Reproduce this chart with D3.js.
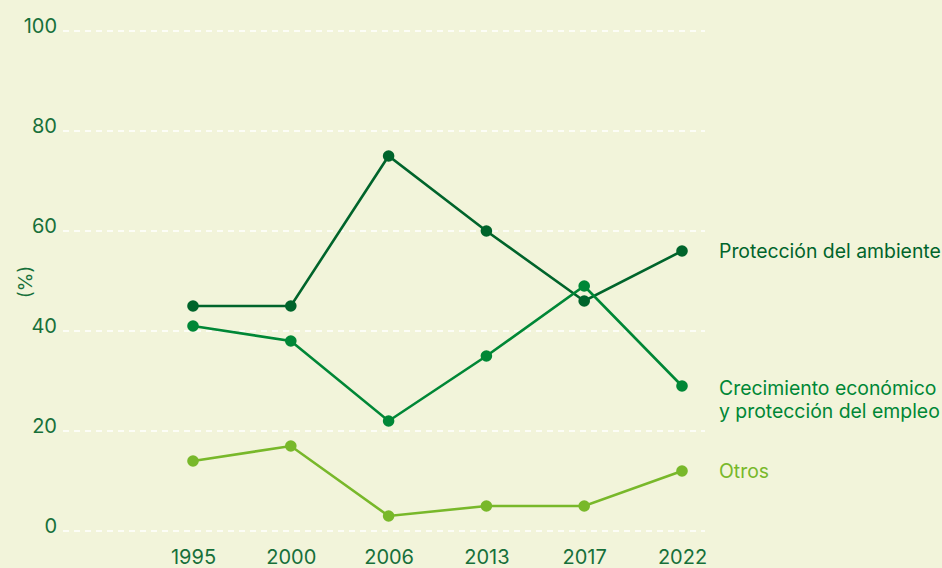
<!DOCTYPE html>
<html>
<head>
<meta charset="utf-8">
<script src="https://cdn.jsdelivr.net/npm/d3@7"></script>
<style>
  html, body { margin: 0; padding: 0; background: #f2f4da; }
  svg { display: block; font-family: Inter, Roboto, "Noto Sans", sans-serif; }
</style>
</head>
<body>
<svg id="chart" width="942" height="568"></svg>
<script>
// Survey years
const years = ["1995", "2000", "2006", "2013", "2017", "2022"];

// Share of respondents (%) per priority
const ambiente = [45, 45, 75, 60, 46, 56];
const crecimiento = [41, 38, 22, 35, 49, 29];
const otros = [14, 17, 3, 5, 5, 12];

const yTicks = [0, 20, 40, 60, 80, 100];

const series = [
  { name: ["Protección del ambiente"], values: ambiente, color: "#00642b" },
  { name: ["Crecimiento económico", "y protección del empleo"], values: crecimiento, color: "#008736" },
  { name: ["Otros"], values: otros, color: "#78b82a" }
];

const svg = d3.select("#chart");
const textColor = "#17703a";

const x = d3.scalePoint().domain(years).range([193, 682]);
const y = d3.scaleLinear().domain([0, 100]).range([531, 31]);

// Dashed horizontal gridlines
svg.append("g")
  .selectAll("line")
  .data(yTicks)
  .join("line")
  .attr("x1", 63).attr("x2", 705)
  .attr("y1", d => y(d)).attr("y2", d => y(d))
  .attr("stroke", "#ffffff")
  .attr("stroke-width", 1.3)
  .attr("stroke-dasharray", "6,5");

// Y axis tick labels, sitting on their gridlines
const yAxis = d3.axisLeft(y).tickValues(yTicks).tickSize(0).tickPadding(0);
svg.append("g")
  .attr("transform", "translate(57,0)")
  .call(yAxis)
  .call(g => g.select(".domain").remove())
  .call(g => g.selectAll("text")
    .attr("dy", "0.05em")
    .attr("fill", textColor)
    .attr("font-size", 20)
    .attr("font-family", "Inter, Roboto, sans-serif"));

// Y axis title
svg.append("text")
  .attr("transform", "translate(27,282) rotate(-90)")
  .attr("text-anchor", "middle")
  .attr("dominant-baseline", "middle")
  .attr("fill", textColor)
  .attr("font-size", 19)
  .text("(%)");

// X axis labels
const xAxis = d3.axisBottom(x).tickSize(0).tickPadding(0);
svg.append("g")
  .attr("transform", "translate(0,550)")
  .call(xAxis)
  .call(g => g.select(".domain").remove())
  .call(g => g.selectAll("text")
    .attr("fill", textColor)
    .attr("font-size", 20)
    .attr("font-family", "Inter, Roboto, sans-serif"));

const line = d3.line()
  .x((d, i) => x(years[i]))
  .y(d => y(d));

series.forEach(s => {
  const g = svg.append("g");
  g.append("path")
    .datum(s.values)
    .attr("d", line)
    .attr("fill", "none")
    .attr("stroke", s.color)
    .attr("stroke-width", 2.6);
  g.selectAll("circle")
    .data(s.values)
    .join("circle")
    .attr("cx", (d, i) => x(years[i]))
    .attr("cy", d => y(d))
    .attr("r", 5.8)
    .attr("fill", s.color);

  // Series label at the end of the line
  const last = s.values[s.values.length - 1];
  const lines = s.name;
  const lh = 23;
  const y0 = y(last) + (lines.length > 1 ? 2 : 0);
  const t = g.append("text")
    .attr("x", 719)
    .attr("fill", s.color)
    .attr("font-size", 19.4);
  lines.forEach((txt, k) => {
    t.append("tspan")
      .attr("x", 719)
      .attr("y", y0 + k * lh)
      .attr("dy", "0.35em")
      .text(txt);
  });
});
</script>
</body>
</html>
